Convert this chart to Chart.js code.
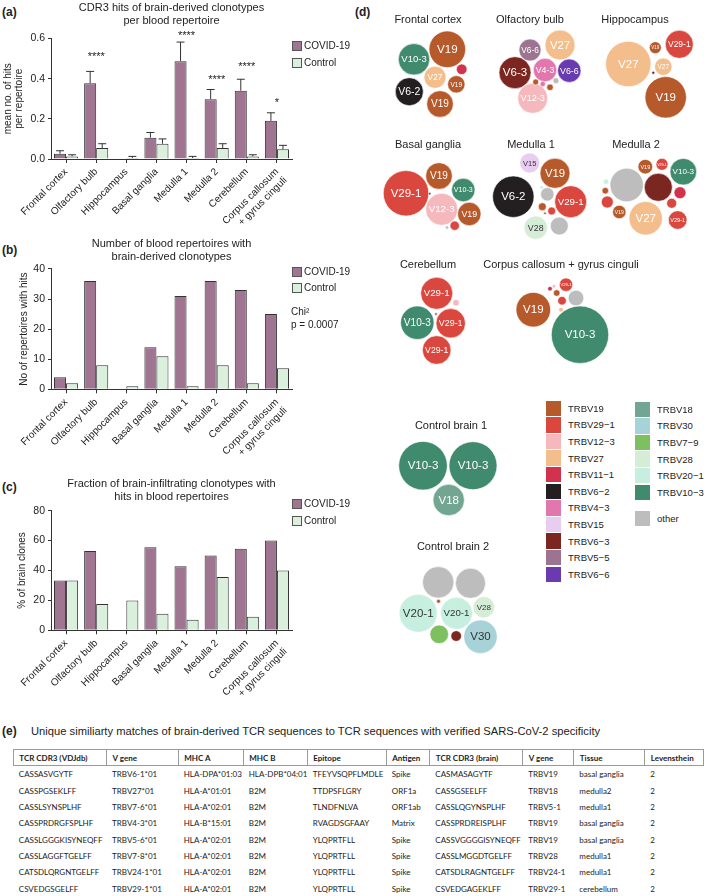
<!DOCTYPE html>
<html>
<head>
<meta charset="utf-8">
<script src="https://cdn.jsdelivr.net/npm/chart.js@4.4.1/dist/chart.umd.min.js"></script>
<style>
  body { margin: 0; background: #fff; }
  #page { position: relative; width: 709px; height: 896px; overflow: hidden;
          font-family: 'Liberation Sans', Arial, sans-serif; color: #222; }
  canvas { position: absolute; }
  .tag { position: absolute; font-weight: bold; font-size: 12px; line-height: 14px; }
  .leg { position: absolute; font-size: 10px; line-height: 12px; display: flex; align-items: center; white-space: nowrap; }
  .leg i { display: inline-block; width: 8px; height: 8px; border: 1px solid #555; margin-right: 2px; }
  .note { position: absolute; font-size: 10px; line-height: 12px; }
  #vleg { position: absolute; font-size: 9.5px; color: #222; }
  .vrow { position: absolute; height: 16.6px; display: flex; align-items: center; white-space: nowrap; }
  .vrow i { display: inline-block; width: 15px; height: 15.6px; margin-right: 7px; }
  #etitle { position: absolute; left: 31px; top: 724px; font-size: 11.2px; line-height: 14px; white-space: nowrap; }
  #tbl { position: absolute; left: 12.7px; top: 749px; width: 690px; border-collapse: collapse; table-layout: fixed;
         font-family: Lato, 'Open Sans', sans-serif; font-size: 8px; color: #222; }
  #tbl th { border: 1px solid #9a9a9a; font-weight: bold; text-align: left; height: 15.3px; padding: 0 0 0 5.6px; white-space: nowrap; }
  #tbl td { height: 16.3px; padding: 0 0 0 5.6px; white-space: nowrap; }
</style>
</head>
<body>
<div id="page">
  <div class="tag" style="left:2px;top:5px">(a)</div>
  <div class="tag" style="left:2px;top:243px">(b)</div>
  <div class="tag" style="left:2px;top:480px">(c)</div>
  <div class="tag" style="left:355px;top:5px">(d)</div>
  <div class="tag" style="left:2px;top:724px">(e)</div>

  <canvas id="hits" width="360" height="247" style="left:0;top:0"></canvas>
  <canvas id="reps" width="360" height="232" style="left:0;top:235px"></canvas>
  <canvas id="frac" width="360" height="232" style="left:0;top:470px"></canvas>

  <div class="leg" style="left:292px;top:40px"><i style="background:#a07591"></i>COVID-19</div>
  <div class="leg" style="left:292px;top:57px"><i style="background:#daf0dc"></i>Control</div>
  <div class="leg" style="left:292px;top:266px"><i style="background:#a07591"></i>COVID-19</div>
  <div class="leg" style="left:292px;top:282px"><i style="background:#daf0dc"></i>Control</div>
  <div class="note" style="left:291px;top:306px">Chi²</div>
  <div class="note" style="left:291px;top:319px">p = 0.0007</div>
  <div class="leg" style="left:292px;top:498px"><i style="background:#a07591"></i>COVID-19</div>
  <div class="leg" style="left:292px;top:515px"><i style="background:#daf0dc"></i>Control</div>

  <canvas id="b0" width="130" height="120" style="left:363px;top:10px"></canvas>
  <canvas id="b1" width="130" height="120" style="left:465px;top:10px"></canvas>
  <canvas id="b2" width="130" height="120" style="left:570px;top:10px"></canvas>
  <canvas id="b3" width="130" height="120" style="left:363px;top:135px"></canvas>
  <canvas id="b4" width="130" height="120" style="left:466px;top:135px"></canvas>
  <canvas id="b5" width="130" height="120" style="left:571px;top:135px"></canvas>
  <canvas id="b6" width="130" height="120" style="left:363px;top:255px"></canvas>
  <canvas id="b7" width="170" height="120" style="left:476px;top:255px"></canvas>
  <canvas id="b8" width="130" height="120" style="left:386px;top:416px"></canvas>
  <canvas id="b9" width="130" height="120" style="left:388px;top:537px"></canvas>

  <div id="vleg"></div>

  <div id="etitle">Unique similiarty matches of brain-derived TCR sequences to TCR sequences with verified SARS-CoV-2 specificity</div>
  <table id="tbl">
    <colgroup>
      <col style="width:93.3px"><col style="width:71.7px"><col style="width:65px"><col style="width:64px"><col style="width:79px">
      <col style="width:43.6px"><col style="width:93px"><col style="width:51px"><col style="width:71px"><col style="width:58.4px">
    </colgroup>
    <thead><tr id="thead"></tr></thead>
    <tbody id="tbody"></tbody>
  </table>
</div>

<script>
// ---- panels a-c: bar data ----
const regions = ['Frontal cortex', 'Olfactory bulb', 'Hippocampus', 'Basal ganglia',
  'Medulla 1', 'Medulla 2', 'Cerebellum', ['Corpus callosum', '+ gyrus cinguli']];

const hitsCovid = [0.026, 0.377, null, 0.106, 0.487, 0.298, 0.340, 0.190];
const hitsCovidSem = [0.015, 0.059, null, 0.026, 0.095, 0.048, 0.057, 0.040];
const hitsControl = [0.013, 0.055, 0.005, 0.076, 0.005, 0.055, 0.013, 0.048];
const hitsControlSem = [0.008, 0.021, 0.008, 0.024, 0.008, 0.021, 0.008, 0.020];
const hitsStars = ['', '****', '', '', '****', '****', '****', '*'];
const hitsStarLevel = [null, 0.525, null, null, 0.626, 0.408, 0.471, 0.293];

const repsCovid = [4, 36, 0, 14, 31, 36, 33, 25];
const repsControl = [2, 8, 1, 11, 1, 8, 2, 7];

const fracCovid = [33.3, 53, 0, 55.6, 42.9, 50, 54.5, 60];
const fracControl = [33.3, 17.6, 20, 11.1, 7.1, 35.7, 9.1, 40];

// ---- panel d: clone bubbles [V gene, x, y, size, label] ----
const frontalCortex = [
  ['TRBV19', 19.3, 29.3, 18.3, 'V19'],
  ['TRBV10-3', -14, 39.3, 15.7, 'V10-3'],
  ['TRBV27', 7, 57.3, 11, 'V27'],
  ['TRBV6-2', -18.7, 71.7, 14, 'V6-2'],
  ['TRBV19', 12, 84, 13.3, 'V19'],
  ['TRBV19', 28.3, 64.3, 8.7, 'V19'],
  ['TRBV11-1', 33.7, 49.3, 5.3, '']
];
const olfactoryBulb = [
  ['TRBV5-5', 0, 30, 11, 'V6-6'],
  ['TRBV27', 30, 25, 15, 'V27'],
  ['TRBV6-3', -15, 52.7, 16, 'V6-3'],
  ['TRBV4-3', 15, 50, 11.7, 'V4-3'],
  ['TRBV6-6', 39.3, 50.7, 11.7, 'V6-6'],
  ['TRBV12-3', 2.7, 78.3, 15, 'V12-3'],
  ['TRBV19', 5.7, 62, 3, ''],
  ['TRBV4-3', 12.7, 64, 2.7, ''],
  ['other', 26, 60.7, 3, ''],
  ['TRBV19', 20, 67.3, 3.3, '']
];
const hippocampus = [
  ['TRBV27', -6.7, 44, 22.7, 'V27'],
  ['TRBV19', 20.3, 27.7, 6, 'V19'],
  ['TRBV29-1', 44.3, 24.3, 14, 'V29-1'],
  ['TRBV27', 28.3, 46.7, 8.7, 'V27'],
  ['TRBV6-3', 18.3, 52.7, 1.5, ''],
  ['TRBV19', 30.7, 77.3, 20.7, 'V19']
];
const basalGanglia = [
  ['TRBV29-1', -22, 48.3, 22.7, 'V29-1'],
  ['TRBV19', 11, 31, 13.3, 'V19'],
  ['TRBV10-3', 35.3, 45, 11.7, 'V10-3'],
  ['TRBV12-3', 13.7, 64.3, 16, 'V12-3'],
  ['TRBV19', 41.3, 69, 11.7, 'V19'],
  ['TRBV29-1', 26.7, 80.7, 4.7, ''],
  ['other', 19, 82.5, 1.7, ''],
  ['TRBV6-3', 1.7, 48.7, 1.2, '']
];
const medulla1 = [
  ['TRBV15', -1.3, 18, 10, 'V15'],
  ['TRBV19', 24, 28.3, 15, 'V19'],
  ['TRBV6-2', -17.7, 51.7, 20.7, 'V6-2'],
  ['TRBV29-1', 39.7, 56.7, 16, 'V29-1'],
  ['other', 16.3, 49.3, 6.7, ''],
  ['TRBV20-1', 10.7, 42.3, 1.7, ''],
  ['TRBV19', 11.3, 61.7, 4, ''],
  ['TRBV29-1', 20.7, 66, 4, ''],
  ['TRBV19', 14, 68.3, 1.3, ''],
  ['TRBV28', 4.7, 82.7, 11.7, 'V28'],
  ['other', 28.3, 81, 9, '']
];
const medulla2 = [
  ['other', -9.3, 40, 16.7, ''],
  ['TRBV19', 9.3, 21.7, 7.3, 'V19'],
  ['TRBV29-1', 26, 19.3, 6, 'V29-1'],
  ['TRBV10-3', 47.3, 26.7, 13.3, 'V10-3'],
  ['TRBV6-3', 22.3, 42.3, 14, ''],
  ['TRBV11-1', 44, 47.7, 6, ''],
  ['TRBV29-1', 35.7, 58.3, 5, ''],
  ['TRBV27', 9.7, 73.3, 16.7, 'V27'],
  ['TRBV29-1', 41.7, 75, 9.3, 'V29-1'],
  ['TRBV19', -16.7, 67, 6.7, 'V19'],
  ['TRBV29-1', -28.7, 57, 6, ''],
  ['TRBV19', -30.7, 45.7, 3.3, ''],
  ['TRBV20-1', -30, 36.7, 2.7, '']
];
const cerebellum = [
  ['TRBV29-1', 8.7, 28.3, 16, 'V29-1'],
  ['TRBV12-3', 28, 37.7, 3.3, ''],
  ['TRBV10-3', -10.7, 57.7, 16.7, 'V10-3'],
  ['TRBV29-1', 22.7, 58.3, 14.7, 'V29-1'],
  ['TRBV6-3', 8, 49, 1.2, ''],
  ['TRBV29-1', 8.7, 85, 14.3, 'V29-1']
];
const corpusCallosum = [
  ['TRBV19', -27.7, 44.7, 17.3, 'V19'],
  ['TRBV10-3', 19, 69.7, 28.7, 'V10-3'],
  ['other', 15, 33, 7.8, ''],
  ['TRBV29-1', 5, 19.7, 6.7, 'V29-1'],
  ['TRBV29-1', 1, 35.7, 4.3, ''],
  ['TRBV19', -4.3, 28, 3.3, ''],
  ['TRBV11-1', -11, 23.7, 2.3, ''],
  ['TRBV12-3', -7, 21.3, 1.7, ''],
  ['TRBV27', 0, 44.7, 2.3, '']
];
const controlBrain1 = [
  ['TRBV10-3', -28, 39.7, 24.3, 'V10-3'],
  ['TRBV10-3', 22, 39.7, 24, 'V10-3'],
  ['TRBV18', -2.3, 74, 15.7, 'V18']
];
const controlBrain2 = [
  ['other', -14.8, 35.3, 15.7, ''],
  ['other', 17.5, 36.3, 15, ''],
  ['TRBV20-1', -34.8, 66.3, 19, 'V20-1'],
  ['TRBV20-1', 3.5, 66.3, 16, 'V20-1'],
  ['TRBV28', 30.8, 60.3, 10.7, 'V28'],
  ['TRBV19', -14.5, 54.3, 2, ''],
  ['TRBV7-9', -13.8, 87.3, 9.3, ''],
  ['TRBV6-3', 3.2, 89, 5.3, ''],
  ['TRBV30', 27.5, 89.7, 16.7, 'V30']
];

const bubbleNames = ['Frontal cortex', 'Olfactory bulb', 'Hippocampus', 'Basal ganglia', 'Medulla 1',
  'Medulla 2', 'Cerebellum', 'Corpus callosum + gyrus cinguli', 'Control brain 1', 'Control brain 2'];
const bubbleSets = [frontalCortex, olfactoryBulb, hippocampus, basalGanglia, medulla1,
  medulla2, cerebellum, corpusCallosum, controlBrain1, controlBrain2];

const legendCol1 = ['TRBV19', 'TRBV29-1', 'TRBV12-3', 'TRBV27', 'TRBV11-1', 'TRBV6-2',
  'TRBV4-3', 'TRBV15', 'TRBV6-3', 'TRBV5-5', 'TRBV6-6'];
const legendCol2 = ['TRBV18', 'TRBV30', 'TRBV7-9', 'TRBV28', 'TRBV20-1', 'TRBV10-3'];

// ---- panel e: table ----
const tableHeader = ['TCR CDR3 (VDJdb)', 'V gene', 'MHC A', 'MHC B', 'Epitope', 'Antigen',
  'TCR CDR3 (brain)', 'V gene', 'Tissue', 'Levensthein'];
const cdr3Vdjdb = ['CASSASVGYTF', 'CASSPGSEKLFF', 'CASSLSYNSPLHF', 'CASSPRDRGFSPLHF',
  'CASSLGGGKISYNEQFF', 'CASSLAGGFTGELFF', 'CATSDLQRGNTGELFF', 'CSVEDGSGELFF'];
const vGeneVdjdb = ['TRBV6-1*01', 'TRBV27*01', 'TRBV7-6*01', 'TRBV4-3*01', 'TRBV5-6*01',
  'TRBV7-8*01', 'TRBV24-1*01', 'TRBV29-1*01'];
const mhcA = ['HLA-DPA*01:03', 'HLA-A*01:01', 'HLA-A*02:01', 'HLA-B*15:01', 'HLA-A*02:01',
  'HLA-A*02:01', 'HLA-A*02:01', 'HLA-A*02:01'];
const mhcB = ['HLA-DPB*04:01', 'B2M', 'B2M', 'B2M', 'B2M', 'B2M', 'B2M', 'B2M'];
const epitopes = ['TFEYVSQPFLMDLE', 'TTDPSFLGRY', 'TLNDFNLVA', 'RVAGDSGFAAY', 'YLQPRTFLL',
  'YLQPRTFLL', 'YLQPRTFLL', 'YLQPRTFLL'];
const antigens = ['Spike', 'ORF1a', 'ORF1ab', 'Matrix', 'Spike', 'Spike', 'Spike', 'Spike'];
const cdr3Brain = ['CASMASAGYTF', 'CASSGSEELFF', 'CASSLQGYNSPLHF', 'CASSPRDREISPLHF',
  'CASSVGGGGISYNEQFF', 'CASSLMGGDTGELFF', 'CATSDLRAGNTGELFF', 'CSVEDGAGEKLFF'];
const vGeneBrain = ['TRBV19', 'TRBV18', 'TRBV5-1', 'TRBV19', 'TRBV19', 'TRBV28', 'TRBV24-1', 'TRBV29-1'];
const tissues = ['basal ganglia', 'medulla2', 'medulla1', 'basal ganglia', 'basal ganglia',
  'medulla1', 'medulla1', 'cerebellum'];
const levenshtein = [2, 2, 2, 2, 2, 2, 2, 2];

// ---- styles ----
const FONT = "'Liberation Sans', Arial, sans-serif";
const COVID_FILL = '#a07591';
const CTRL_FILL = '#daf0dc';
const EDGE = '#333';
const vColors = {
  'TRBV19': '#b65a2c', 'TRBV29-1': '#d9473e', 'TRBV12-3': '#f5b8bd', 'TRBV27': '#f4be8c',
  'TRBV11-1': '#d3324d', 'TRBV6-2': '#231f20', 'TRBV4-3': '#e277ae', 'TRBV15': '#e9cdf1',
  'TRBV6-3': '#7b2620', 'TRBV5-5': '#9c7491', 'TRBV6-6': '#6a3ab0', 'TRBV18': '#72a592',
  'TRBV30': '#a7d2d7', 'TRBV7-9': '#7dc05f', 'TRBV28': '#d5edd6', 'TRBV20-1': '#c6efe0',
  'TRBV10-3': '#408a6e', 'other': '#bdbdbd'
};
const darkLabel = new Set(['TRBV15', 'TRBV28', 'TRBV20-1', 'TRBV30']);

Chart.defaults.font.family = FONT;
Chart.defaults.color = '#222';

function barChart(id, o) {
  return new Chart(document.getElementById(id), {
    type: 'bar',
    data: {
      labels: regions,
      datasets: [
        { label: 'COVID-19', data: o.covid, backgroundColor: COVID_FILL, borderColor: EDGE,
          borderWidth: 1, categoryPercentage: 0.8, barPercentage: 1 },
        { label: 'Control', data: o.control, backgroundColor: CTRL_FILL, borderColor: EDGE,
          borderWidth: 1, categoryPercentage: 0.8, barPercentage: 1 }
      ]
    },
    options: {
      responsive: false,
      animation: false,
      events: [],
      layout: { padding: { left: 0, right: 68, top: 0, bottom: 0 } },
      plugins: {
        legend: { display: false },
        tooltip: { enabled: false },
        title: {
          display: true, text: o.title, fullSize: false, color: '#222',
          font: { size: 11, weight: 'normal', lineHeight: 1.18 },
          padding: { top: o.titleTop, bottom: o.titleBottom }
        }
      },
      scales: {
        x: {
          grid: { offset: false, drawOnChartArea: false, drawTicks: true, tickLength: 4, tickColor: EDGE },
          border: { color: EDGE, width: 1 },
          ticks: { minRotation: 45, maxRotation: 45, autoSkip: false, padding: 3,
                   font: { size: 10 }, color: '#222' },
          afterFit(s) { s.height = o.axisHeight; }
        },
        y: {
          min: 0, max: o.max,
          border: { color: EDGE, width: 1 },
          grid: { drawOnChartArea: false, drawTicks: true, tickLength: 3, tickColor: EDGE },
          ticks: { stepSize: o.step, padding: 3, font: { size: 10.5 }, color: '#222', callback: o.fmt },
          title: { display: true, text: o.yTitle, color: '#222',
                   font: { size: 10, lineHeight: 1.05 }, padding: { top: o.yTitlePad, bottom: 0 } },
          afterFit(s) { s.width = 51; }
        }
      }
    },
    plugins: o.plugins || []
  });
}

// error bars and significance marks for panel (a)
const errorBars = {
  id: 'errorBars',
  afterDatasetsDraw(chart) {
    const { ctx, scales: { x, y } } = chart;
    ctx.save();
    ctx.strokeStyle = EDGE;
    ctx.lineWidth = 1;
    [hitsCovidSem, hitsControlSem].forEach((sem, di) => {
      const vals = chart.data.datasets[di].data;
      chart.getDatasetMeta(di).data.forEach((bar, i) => {
        if (vals[i] == null || sem[i] == null) return;
        const top = y.getPixelForValue(vals[i] + sem[i]);
        ctx.beginPath();
        ctx.moveTo(bar.x, bar.y);
        ctx.lineTo(bar.x, top);
        ctx.moveTo(bar.x - 4, top);
        ctx.lineTo(bar.x + 4, top);
        ctx.stroke();
      });
    });
    ctx.fillStyle = '#222';
    ctx.font = `11px ${FONT}`;
    ctx.textAlign = 'center';
    ctx.textBaseline = 'middle';
    hitsStars.forEach((s, i) => {
      if (!s) return;
      ctx.fillText(s, x.getPixelForValue(i), y.getPixelForValue(hitsStarLevel[i]) + 3);
    });
    ctx.restore();
  }
};

barChart('hits', {
  covid: hitsCovid, control: hitsControl, max: 0.6, step: 0.2,
  fmt: v => v.toFixed(1),
  title: ['CDR3 hits of brain-derived clonotypes', 'per blood repertoire'],
  titleTop: 1, titleBottom: 11.5, axisHeight: 88,
  yTitle: ['mean no. of hits', 'per repertoire'], yTitlePad: 3,
  plugins: [errorBars]
});
barChart('reps', {
  covid: repsCovid, control: repsControl, max: 40, step: 10,
  fmt: v => String(v),
  title: ['Number of blood repertoires with', 'brain-derived clonotypes'],
  titleTop: 2, titleBottom: 6, axisHeight: 77.7,
  yTitle: 'No of repertoires with hits', yTitlePad: 19
});
barChart('frac', {
  covid: fracCovid, control: fracControl, max: 80, step: 20,
  fmt: v => String(v),
  title: ['Fraction of brain-infiltrating clonotypes with', 'hits in blood repertoires'],
  titleTop: 7.7, titleBottom: 7, axisHeight: 71.7,
  yTitle: '% of brain clones', yTitlePad: 16.7
});

// ---- bubble panels ----
function bubbleText(name) {
  return {
    id: 'bubbleText',
    afterDatasetsDraw(chart) {
      const { ctx, scales: { x, y } } = chart;
      ctx.save();
      ctx.textAlign = 'center';
      ctx.textBaseline = 'middle';
      ctx.fillStyle = '#222';
      ctx.font = `11px ${FONT}`;
      ctx.fillText(name, x.getPixelForValue(0), y.getPixelForValue(0));
      const pts = chart.data.datasets[0].data;
      chart.getDatasetMeta(0).data.forEach((el, i) => {
        const d = pts[i];
        if (!d.lab) return;
        const r = d.r;
        const fs = Math.max(3, Math.min(11.5, r * 0.75, 2 * r * 0.85 / (d.lab.length * 0.56)));
        ctx.font = `${fs.toFixed(1)}px ${FONT}`;
        ctx.fillStyle = darkLabel.has(d.g) ? '#333' : '#fff';
        ctx.fillText(d.lab, el.x, el.y + 0.5);
      });
      ctx.restore();
    }
  };
}

bubbleSets.forEach((set, k) => {
  const canvas = document.getElementById('b' + k);
  const w = canvas.width, h = canvas.height;
  // one data unit is one pixel on these canvases, so bubble size maps straight to r
  new Chart(canvas, {
    type: 'bubble',
    data: {
      datasets: [{
        data: set.map(([g, x, y, s, lab]) => ({ x, y, r: s, g, lab })),
        backgroundColor: set.map(p => vColors[p[0]]),
        borderColor: '#fff',
        borderWidth: 0.6,
        clip: false
      }]
    },
    options: {
      responsive: false,
      animation: false,
      events: [],
      layout: { padding: 0, autoPadding: false },
      plugins: { legend: { display: false }, tooltip: { enabled: false } },
      scales: {
        x: { display: false, min: -w / 2, max: w / 2 },
        y: { display: false, min: -10, max: h - 10, reverse: true }
      }
    },
    plugins: [bubbleText(bubbleNames[k])]
  });
});

// V gene legend
const vleg = document.getElementById('vleg');
const pretty = g => g.replace('-', '\u2212');
legendCol1.forEach((g, i) => {
  vleg.insertAdjacentHTML('beforeend',
    `<div class="vrow" style="left:546px;top:${400 + i * 16.6}px"><i style="background:${vColors[g]}"></i>${pretty(g)}</div>`);
});
legendCol2.forEach((g, i) => {
  vleg.insertAdjacentHTML('beforeend',
    `<div class="vrow" style="left:635px;top:${401 + i * 16.6}px"><i style="background:${vColors[g]}"></i>${pretty(g)}</div>`);
});
vleg.insertAdjacentHTML('beforeend',
  `<div class="vrow" style="left:635px;top:${401 + 6 * 16.6 + 9.8}px"><i style="background:${vColors.other}"></i>other</div>`);

// table
document.getElementById('thead').innerHTML = tableHeader.map(t => `<th>${t}</th>`).join('');
const cols = [cdr3Vdjdb, vGeneVdjdb, mhcA, mhcB, epitopes, antigens, cdr3Brain, vGeneBrain, tissues, levenshtein];
document.getElementById('tbody').innerHTML = cdr3Vdjdb.map((_, r) =>
  '<tr>' + cols.map(c => `<td>${c[r]}</td>`).join('') + '</tr>').join('');
</script>
</body>
</html>
